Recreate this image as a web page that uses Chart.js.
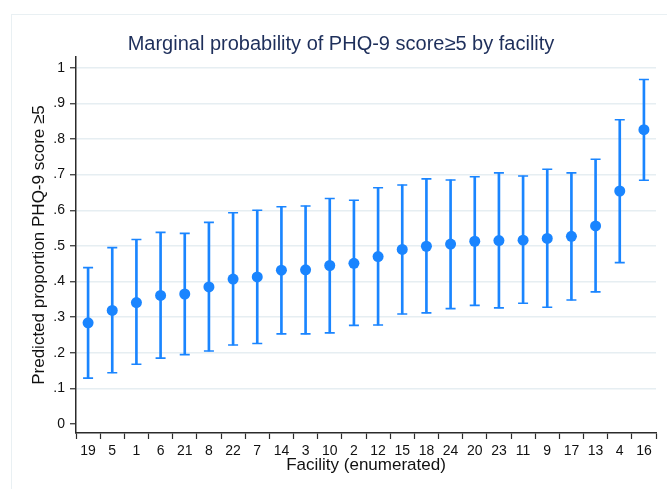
<!DOCTYPE html>
<html>
<head>
<meta charset="utf-8">
<script src="https://cdn.jsdelivr.net/npm/chart.js@4"></script>
<style>
  body { margin: 0; background: #fff; }
  .wrap { position: relative; width: 667px; height: 489px; overflow: hidden; }
  .frame { position: absolute; left: 11px; top: 14px; width: 700px; height: 520px; border: 1px solid #e9f0f3; }
  canvas { position: absolute; left: 0; top: 0; }
</style>
</head>
<body>
<div class="wrap">
  <div class="frame"></div>
  <canvas id="marginsChart"></canvas>
</div>
<script>
// ---------- data ----------
// facility (enumerated), sorted by predicted proportion
const facilities = ['19', '5', '1', '6', '21', '8', '22', '7', '14', '3', '10', '2',
  '12', '15', '18', '24', '20', '23', '11', '9', '17', '13', '4', '16'];

// predicted proportion PHQ-9 score >= 5
const margins = [0.284, 0.319, 0.341, 0.361, 0.365, 0.385, 0.407, 0.413, 0.432, 0.433, 0.445, 0.451,
  0.470, 0.490, 0.499, 0.505, 0.513, 0.515, 0.516, 0.521, 0.527, 0.556, 0.654, 0.826];

// 95% CI lower / upper
const ciLow = [0.129, 0.144, 0.168, 0.185, 0.195, 0.205, 0.222, 0.226, 0.253, 0.253, 0.256, 0.277,
  0.278, 0.309, 0.312, 0.324, 0.333, 0.326, 0.339, 0.328, 0.348, 0.371, 0.453, 0.684];
const ciHigh = [0.439, 0.495, 0.518, 0.538, 0.535, 0.566, 0.593, 0.600, 0.610, 0.612, 0.633, 0.628,
  0.663, 0.671, 0.688, 0.685, 0.694, 0.705, 0.696, 0.715, 0.705, 0.743, 0.854, 0.967];

// y axis ticks
const yTicks = [0, 0.1, 0.2, 0.3, 0.4, 0.5, 0.6, 0.7, 0.8, 0.9, 1];

// ---------- style ----------
const blue = '#1a85ff';
const axisColor = '#2b2b2b';
const gridColor = '#e6eef2';
const fontFamily = '"Liberation Sans", Arial, Helvetica, sans-serif';

// stata style labels: 0, .1, .2 ... 1
function stataLabel(v) {
  if (v === 0 || v === 1) return String(v);
  return String(Math.round(v * 10) / 10).replace(/^0/, '');
}

const data = {
  labels: facilities,
  datasets: [
    {
      // confidence interval line
      type: 'bar',
      data: ciLow.map((lo, i) => [lo, ciHigh[i]]),
      backgroundColor: blue,
      borderWidth: 0,
      barThickness: 2,
      grouped: false,
      order: 3,
    },
    {
      // lower cap
      type: 'line',
      data: ciLow,
      showLine: false,
      pointStyle: 'line',
      pointRadius: 5,
      pointBorderWidth: 1.6,
      pointBorderColor: blue,
      order: 2,
    },
    {
      // upper cap
      type: 'line',
      data: ciHigh,
      showLine: false,
      pointStyle: 'line',
      pointRadius: 5,
      pointBorderWidth: 1.6,
      pointBorderColor: blue,
      order: 2,
    },
    {
      // point estimate
      type: 'line',
      data: margins,
      showLine: false,
      pointStyle: 'circle',
      pointRadius: 5.5,
      pointBorderWidth: 0,
      pointBackgroundColor: blue,
      order: 0,
    },
  ],
};

const config = {
  type: 'bar',
  data: data,
  options: {
    responsive: true,
    maintainAspectRatio: false,
    animation: false,
    layout: {
      padding: { left: 26, right: 11, top: 0, bottom: 0 },
    },
    plugins: {
      legend: { display: false },
      tooltip: { enabled: false },
      title: {
        display: true,
        text: 'Marginal probability of PHQ-9 score≥5 by facility',
        color: '#1e2f5b',
        font: { family: fontFamily, size: 20, weight: 'normal' },
        padding: { top: 32, bottom: 1 },
      },
    },
    scales: {
      x: {
        offset: true,
        grid: {
          drawOnChartArea: false,
          tickLength: 6,
          tickColor: axisColor,
          tickWidth: 1.2,
        },
        border: { color: axisColor, width: 1.5 },
        ticks: {
          color: '#111',
          font: { family: fontFamily, size: 14 },
          padding: 4,
          maxRotation: 0,
          autoSkip: false,
        },
        title: {
          display: true,
          text: 'Facility (enumerated)',
          color: '#111',
          font: { family: fontFamily, size: 17 },
          padding: { top: 0, bottom: 13 },
        },
        afterFit: (scale) => {
          scale.height = 56;
        },
      },
      y: {
        min: -0.025,
        max: 1.03,
        afterBuildTicks: (scale) => {
          scale.ticks = yTicks.map((v) => ({ value: v }));
        },
        grid: {
          color: (ctx) => (ctx.tick && ctx.tick.value === 0 ? 'rgba(0,0,0,0)' : gridColor),
          lineWidth: 1.5,
          tickLength: 6,
          tickColor: axisColor,
          tickWidth: 1.2,
        },
        border: { color: axisColor, width: 1.5 },
        ticks: {
          color: '#111',
          font: { family: fontFamily, size: 14 },
          padding: 5,
          callback: (value) => stataLabel(value),
        },
        title: {
          display: true,
          text: 'Predicted proportion PHQ-9 score ≥5',
          color: '#111',
          font: { family: fontFamily, size: 17 },
          padding: { top: 3, bottom: 0 },
        },
        afterFit: (scale) => {
          scale.width = 50;
        },
      },
    },
  },
};

let myChart = new Chart(document.getElementById('marginsChart'), config);
</script>
</body>
</html>
